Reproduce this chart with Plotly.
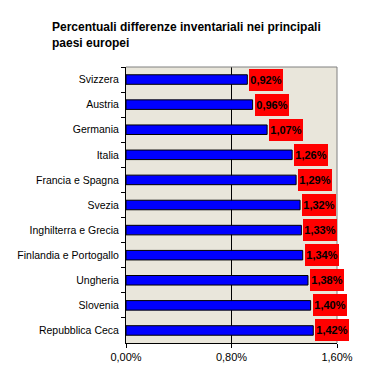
import plotly.graph_objects as go

countries = ["Svizzera", "Austria", "Germania", "Italia", "Francia e Spagna", "Svezia",
             "Inghilterra e Grecia", "Finlandia e Portogallo", "Ungheria", "Slovenia",
             "Repubblica Ceca"]
values = [0.92, 0.96, 1.07, 1.26, 1.29, 1.32, 1.33, 1.34, 1.38, 1.40, 1.42]
x_ticks = [0.0, 0.8, 1.6]
x_tick_labels = ["0,00%", "0,80%", "1,60%"]
title_text = "Percentuali differenze inventariali nei principali<br>paesi europei"

FONT = "Liberation Sans, Arial, sans-serif"

fig = go.Figure()
fig.add_trace(go.Bar(
    x=values, y=countries, orientation="h",
    marker=dict(color="#0000FF", line=dict(color="black", width=1)),
    hoverinfo="skip",
))

for c, v in zip(countries, values):
    fig.add_annotation(
        x=v, y=c, xref="x", yref="y",
        text="<b>" + f"{v:.2f}".replace(".", ",") + "%</b>",
        showarrow=False, xanchor="left", xshift=2,
        bgcolor="#FF0000", width=34, height=22, borderpad=0, borderwidth=0,
        font=dict(family=FONT, size=11, color="black"),
    )

fig.add_shape(type="line", xref="paper", yref="paper", x0=1, x1=1, y0=0, y1=1,
              line=dict(color="#808080", width=1))
fig.add_shape(type="line", xref="paper", yref="paper", x0=0, x1=1, y0=1, y1=1,
              line=dict(color="#808080", width=1))

fig.update_layout(
    width=368, height=375,
    margin=dict(l=126, r=31, t=67, b=32, autoexpand=False),
    paper_bgcolor="white",
    plot_bgcolor="#E9E6DB",
    bargap=0.62,
    showlegend=False,
    font=dict(family=FONT, size=11, color="black"),
    title=dict(text="<b>" + title_text + "</b>", xref="container", yref="container",
               x=52 / 368, xanchor="left", y=1 - 31 / 375, yanchor="top",
               font=dict(family=FONT, size=12, color="black")),
    xaxis=dict(range=[0, 1.6], tickvals=x_ticks, ticktext=x_tick_labels,
               showgrid=True, gridcolor="black", gridwidth=1, zeroline=False,
               showline=True, linecolor="black", linewidth=1,
               ticks="outside", ticklen=4, tickcolor="black",
               tickfont=dict(family=FONT, size=11)),
    yaxis=dict(categoryorder="array", categoryarray=countries, autorange="reversed",
               showline=True, linecolor="black", linewidth=1,
               ticks="outside", ticklen=4, tickcolor="black", tickson="boundaries",
               ticklabelstandoff=4,
               showgrid=False, tickfont=dict(family=FONT, size=10.5)),
)

fig.write_html("out.html", config={"displayModeBar": False},
               post_script="document.body.style.margin='0';")
